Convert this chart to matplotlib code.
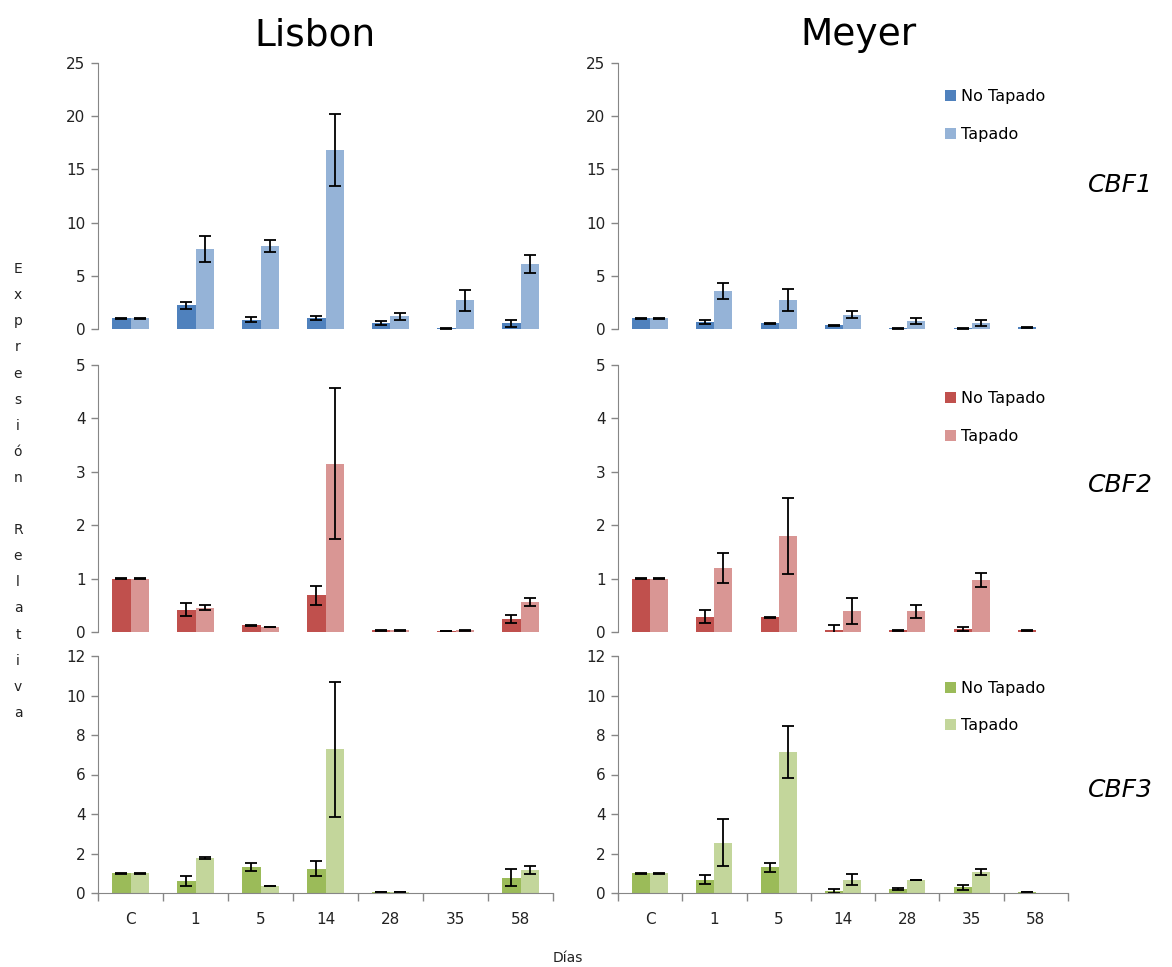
import numpy as np
import matplotlib
matplotlib.use("Agg")
import matplotlib.pyplot as plt

plt.rcParams['font.family'] = ['DejaVu Sans']

dias = ['C', '1', '5', '14', '28', '35', '58']
nan = np.nan

# Lisbon
lis_cbf1_nt = [1.0, 2.22, 0.88, 1.0, 0.53, 0.05, 0.53]
lis_cbf1_nt_err = [0.05, 0.3, 0.25, 0.2, 0.2, 0.02, 0.35]
lis_cbf1_t = [1.0, 7.5, 7.8, 16.8, 1.19, 2.7, 6.14]
lis_cbf1_t_err = [0.05, 1.2, 0.6, 3.37, 0.3, 1.0, 0.83]

lis_cbf2_nt = [1.0, 0.42, 0.125, 0.69, 0.03, 0.02, 0.24]
lis_cbf2_nt_err = [0.005, 0.115, 0.01, 0.18, 0.01, 0.005, 0.08]
lis_cbf2_t = [1.0, 0.456, 0.09, 3.15, 0.03, 0.03, 0.56]
lis_cbf2_t_err = [0.005, 0.05, 0.005, 1.41, 0.01, 0.005, 0.075]

lis_cbf3_nt = [1.0, 0.61, 1.32, 1.23, 0.05, nan, 0.78]
lis_cbf3_nt_err = [0.02, 0.24, 0.19, 0.37, 0.01, nan, 0.45]
lis_cbf3_t = [1.0, 1.77, 0.34, 7.27, 0.05, nan, 1.15]
lis_cbf3_t_err = [0.02, 0.05, 0.01, 3.4, 0.01, nan, 0.2]

# Meyer
mey_cbf1_nt = [1.0, 0.69, 0.53, 0.34, 0.05, 0.05, 0.15]
mey_cbf1_nt_err = [0.05, 0.2, 0.03, 0.05, 0.02, 0.02, 0.05]
mey_cbf1_t = [1.0, 3.57, 2.7, 1.35, 0.75, 0.56, nan]
mey_cbf1_t_err = [0.05, 0.77, 1.05, 0.3, 0.25, 0.25, nan]

mey_cbf2_nt = [1.0, 0.29, 0.28, 0.03, 0.03, 0.05, 0.03]
mey_cbf2_nt_err = [0.005, 0.12, 0.01, 0.11, 0.01, 0.04, 0.01]
mey_cbf2_t = [1.0, 1.2, 1.8, 0.39, 0.39, 0.97, nan]
mey_cbf2_t_err = [0.005, 0.28, 0.71, 0.24, 0.12, 0.135, nan]

mey_cbf3_nt = [1.0, 0.68, 1.3, 0.1, 0.2, 0.29, 0.05]
mey_cbf3_nt_err = [0.02, 0.21, 0.24, 0.1, 0.03, 0.13, 0.01]
mey_cbf3_t = [1.0, 2.55, 7.15, 0.68, 0.66, 1.06, nan]
mey_cbf3_t_err = [0.02, 1.18, 1.33, 0.3, 0.02, 0.16, nan]

data = [
    [(lis_cbf1_nt, lis_cbf1_nt_err, lis_cbf1_t, lis_cbf1_t_err),
     (mey_cbf1_nt, mey_cbf1_nt_err, mey_cbf1_t, mey_cbf1_t_err)],
    [(lis_cbf2_nt, lis_cbf2_nt_err, lis_cbf2_t, lis_cbf2_t_err),
     (mey_cbf2_nt, mey_cbf2_nt_err, mey_cbf2_t, mey_cbf2_t_err)],
    [(lis_cbf3_nt, lis_cbf3_nt_err, lis_cbf3_t, lis_cbf3_t_err),
     (mey_cbf3_nt, mey_cbf3_nt_err, mey_cbf3_t, mey_cbf3_t_err)],
]

genes = ['CBF1', 'CBF2', 'CBF3']
ymax = [25, 5, 12]
ystep = [5, 1, 2]
colors = [('#4F81BD', '#95B3D7'), ('#C0504D', '#D99694'), ('#9BBB59', '#C3D69B')]

W, H = 1172, 967
fig = plt.figure(figsize=(W / 100, H / 100), dpi=100)

cols = [(98, 553), (618, 1068)]
rows = [(63, 329), (365, 632), (656, 893)]
grey = '#868686'
w = 0.28
x = np.arange(len(dias))

for r in range(3):
    for c in range(2):
        x0, x1 = cols[c]
        top, bot = rows[r]
        ax = fig.add_axes([x0 / W, 1 - bot / H, (x1 - x0) / W, (bot - top) / H])
        nt, nte, t, te = data[r][c]
        ekw = dict(ecolor='black', elinewidth=1.3, capthick=1.3)
        ax.bar(x - w / 2, nt, w, color=colors[r][0], yerr=nte, capsize=4,
               error_kw=ekw, label='No Tapado')
        ax.bar(x + w / 2, t, w, color=colors[r][1], yerr=te, capsize=4,
               error_kw=ekw, label='Tapado')
        ax.set_xlim(-0.5, len(dias) - 0.5)
        ax.set_ylim(0, ymax[r])
        ax.set_yticks(np.arange(0, ymax[r] + 0.01, ystep[r]))
        for s in ['top', 'right']:
            ax.spines[s].set_visible(False)
        ax.spines['left'].set_color(grey)
        ax.tick_params(axis='y', colors=grey, labelcolor='#222222',
                       labelsize=11, length=5, width=1, pad=4)
        if r == 2:
            ax.spines['bottom'].set_color(grey)
            ax.set_xticks(np.arange(-0.5, len(dias), 1.0))
            ax.set_xticklabels([])
            ax.set_xticks(x, minor=True)
            ax.set_xticklabels(dias, minor=True)
            ax.tick_params(axis='x', which='major', colors=grey, length=6, width=1)
            ax.tick_params(axis='x', which='minor', length=0, labelsize=11,
                           labelcolor='#222222', pad=14)
        else:
            ax.spines['bottom'].set_visible(False)
            ax.set_xticks([])
        if c == 1:
            ax.legend(loc='upper right', bbox_to_anchor=(0.982, 0.955), frameon=False,
                      fontsize=11.5, handlelength=0.7, handleheight=0.7,
                      handletextpad=0.3, labelspacing=1.4)

fig.text(315 / W, 1 - 35 / H, 'Lisbon', fontsize=27, ha='center', va='center')
fig.text(858 / W, 1 - 35 / H, 'Meyer', fontsize=27, ha='center', va='center')

for gene, yc in zip(genes, [185, 485, 790]):
    fig.text(1120 / W, 1 - yc / H, gene, fontsize=18, style='italic',
             ha='center', va='center')

fig.text(18 / W, 1 - 491 / H, '\n'.join('Expresión Relativa'), fontsize=10,
         ha='center', va='center', linespacing=2.1, color='#222222')
fig.text(568 / W, 1 - 958 / H, 'Días', fontsize=10, ha='center', va='center',
         color='#222222')

fig.savefig('out.png', dpi=100)
